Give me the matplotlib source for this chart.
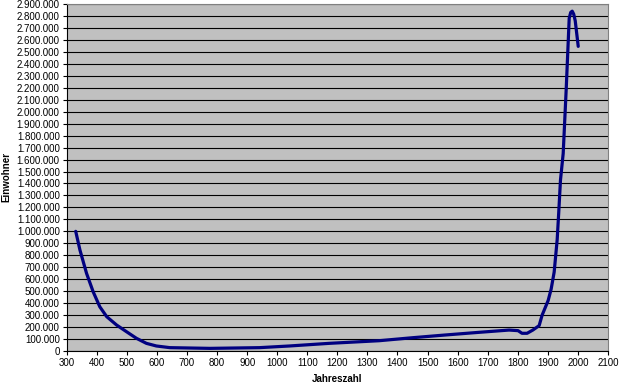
import matplotlib.pyplot as plt
from matplotlib.ticker import FuncFormatter, MultipleLocator

# Jahr / Einwohner
jahre = [330, 344, 366, 388, 410, 433, 466, 499, 532, 565, 598, 643, 776, 941,
         1041, 1173, 1339, 1450, 1560, 1671, 1771, 1801, 1814, 1831, 1850,
         1871, 1881, 1901, 1911, 1921, 1931, 1936, 1942, 1951, 1961, 1971,
         1976, 1981, 1986, 1991, 2001]
einwohner = [1000000, 844000, 649000, 495000, 370000, 287000, 217000, 161000,
             106000, 64000, 42000, 28000, 22000, 28000, 42000, 64000, 86000,
             111000, 134000, 156000, 175000, 170000, 148000, 148000, 175000,
             212000, 300000, 422000, 518000, 660000, 930000, 1150000, 1429000,
             1651000, 2188000, 2781000, 2830000, 2840000, 2815000, 2760000,
             2546000]

plt.rcParams['font.family'] = ['Liberation Sans', 'DejaVu Sans']

fig = plt.figure(figsize=(6.2, 3.85), dpi=100)
ax = fig.add_axes([66.7 / 620, 1 - 351 / 385, (608 - 66.7) / 620, (351 - 4) / 385])
ax.set_facecolor('#c0c0c0')

ax.plot(jahre, einwohner, color='#000080', lw=2.3, solid_joinstyle='round',
        solid_capstyle='round', zorder=3)

ax.set_xlim(300, 2100)
ax.set_ylim(0, 2900000)
ax.xaxis.set_major_locator(MultipleLocator(100))
ax.yaxis.set_major_locator(MultipleLocator(100000))
ax.yaxis.set_major_formatter(FuncFormatter(lambda v, p: f'{int(v):,}'.replace(',', '.')))
ax.grid(axis='y', color='black', lw=0.8, zorder=1)
ax.set_axisbelow(True)

ax.tick_params(labelsize=7, length=3, width=0.8, color='black', pad=2)
for s in ['left', 'bottom']:
    ax.spines[s].set_color('black')
    ax.spines[s].set_linewidth(0.8)
for s in ['top', 'right']:
    ax.spines[s].set_color('#808080')
    ax.spines[s].set_linewidth(0.8)

ax.set_xlabel('Jahreszahl', fontsize=7, fontweight='bold', labelpad=4)
ax.set_ylabel('Einwohner', fontsize=7, fontweight='bold', labelpad=4)

fig.savefig('out.png', dpi=100)
